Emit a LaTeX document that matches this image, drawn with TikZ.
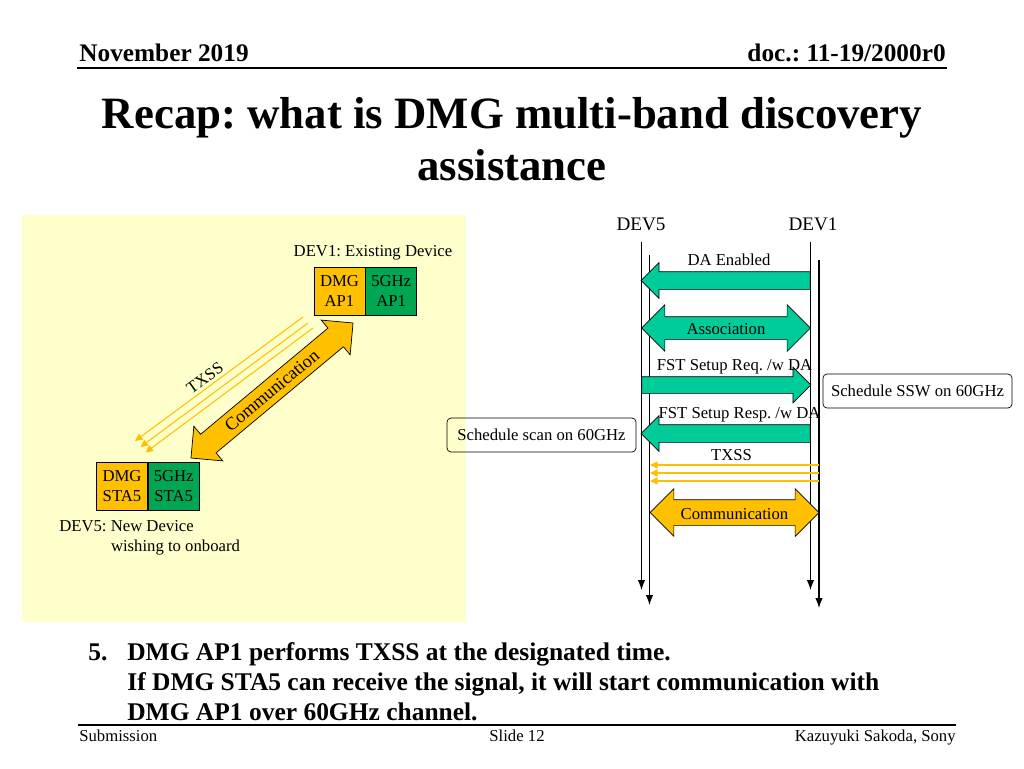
\documentclass[tikz,border=0pt]{standalone}
\usepackage{fontspec}
\setmainfont{Liberation Serif}
\usetikzlibrary{arrows.meta, shapes.arrows}
\definecolor{padyellow}{RGB}{255,255,204}
\definecolor{dmgorange}{RGB}{255,192,0}
\definecolor{ghzgreen}{RGB}{0,166,81}
\definecolor{msggreen}{RGB}{0,204,153}
\tikzset{
  lbl/.style={font=\fontsize{9.5}{11}\selectfont, inner sep=0pt},
  hdr/.style={font=\bfseries\fontsize{14.4}{17}\selectfont, inner sep=0pt},
  bottxt/.style={font=\bfseries\fontsize{14.5}{17}\selectfont, inner sep=0pt, anchor=base west},
  foot/.style={font=\fontsize{9.5}{11}\selectfont, inner sep=0pt},
  devbox/.style={draw, thin, minimum width=1.02cm, minimum height=0.96cm, inner sep=0pt,
    align=center, font=\fontsize{9.5}{11.5}\selectfont},
  lifeline/.style={line width=0.7pt, -{Latex[length=0.2cm, width=0.15cm]}},
  msgarrow/.style={single arrow, draw, thin, fill=msggreen, minimum height=3.38cm,
    inner sep=0pt, text depth=0pt, anchor=tail},
  msgboth/.style={double arrow, draw, thin, minimum height=3.38cm, inner sep=0pt, lbl},
  beam/.style={dmgorange, line width=0.6pt, -{Triangle[length=0.15cm, width=0.14cm]}},
  notebox/.style={draw, thin, rounded corners=0.08cm, minimum width=3.78cm,
    minimum height=0.68cm, lbl},
}
\begin{document}
\frenchspacing
\begin{tikzpicture}[x=0.02cm, y=-0.02cm]
  \useasboundingbox (0,0) rectangle (1024,768);
  % header and title
  \node[hdr, anchor=base west] (month) at (79,61.5) {November 2019};
  \node[hdr, anchor=base east] (docno) at (946,61.5) {doc.: 11-19/2000r0};
  \draw[line width=0.9pt] (77,68) -- (947,68);
  \node[font=\bfseries\fontsize{25.5}{30}\selectfont, inner sep=0pt, anchor=base] (title1)
    at (512,128) {Recap: what is DMG multi-band discovery};
  \node[font=\bfseries\fontsize{25.5}{30}\selectfont, inner sep=0pt, anchor=base] (title2)
    at (512,180) {assistance};

  % left: topology
  \fill[padyellow] (22,215) rectangle (466,622);
  \coordinate (bs1) at (303,317); \coordinate (be1) at (135,441);
  \coordinate (bs2) at (308,323); \coordinate (be2) at (140.5,447);
  \coordinate (bs3) at (313,328); \coordinate (be3) at (145.5,452.5);
  \foreach \i in {1,2,3}
    \draw[beam] (bs\i) -- (be\i);
  \node[lbl, rotate=36] (txssdiag) at (205,378) {TXSS};
  \node[double arrow, draw, thin, fill=dmgorange, rotate=39.8, minimum height=4.22cm,
    double arrow head extend=0.21cm, text height=0.35cm, text depth=0.12cm, inner sep=0pt,
    font=\fontsize{10.3}{12}\selectfont] (commdiag) at (272,390.5) {Communication};

  \node[devbox, fill=dmgorange] (dmgap) at (339.5,291) {DMG\\AP1};
  \node[devbox, fill=ghzgreen, anchor=west] (ghzap) at (dmgap.east) {5GHz\\AP1};
  \node[lbl, anchor=base] (dev1name) at (373,256.7) {DEV1: Existing Device};
  \node[devbox, fill=dmgorange] (dmgsta) at (122,486.3) {DMG\\STA5};
  \node[devbox, fill=ghzgreen, anchor=west] (ghzsta) at (dmgsta.east) {5GHz\\STA5};
  \node[lbl, anchor=base west] (dev5name) at (59,531.7) {DEV5: New Device};
  \node[lbl, anchor=base west] (dev5more) at (110.7,551) {wishing to onboard};

  % right: message sequence
  \node[font=\fontsize{10.9}{13}\selectfont, inner sep=0pt, anchor=base] (dev5) at (641,230) {DEV5};
  \node[font=\fontsize{10.9}{13}\selectfont, inner sep=0pt, anchor=base] (dev1) at (813,230) {DEV1};
  \coordinate (l5a) at (641.5,242); \coordinate (l5aend) at (641.5,590);
  \coordinate (l5b) at (649.5,255); \coordinate (l5bend) at (649.5,605);
  \coordinate (l1a) at (810.5,242); \coordinate (l1aend) at (810.5,590);
  \coordinate (l1b) at (819,260);   \coordinate (l1bend) at (819,608);
  \draw[lifeline] (l5a) -- (l5aend);
  \draw[lifeline] (l5b) -- (l5bend);
  \draw[lifeline] (l1a) -- (l1aend);
  \draw[lifeline] (l1b) -- (l1bend);

  \node[msgarrow, shape border rotate=180, text height=0.34cm, single arrow head extend=0.18cm]
    (daen) at (810.5,280.5) {};
  \node[lbl, anchor=base] (daenlbl) at (729,265) {DA Enabled};
  \node[msgboth, fill=msggreen, double arrow head extend=0.24cm, text height=0.34cm,
    text depth=0.1cm] (assoc) at (726,328) {Association};
  \node[msgarrow, text height=0.32cm, single arrow head extend=0.19cm] (fstreq) at (641.5,385) {};
  \node[lbl, anchor=base] (fstreqlbl) at (734.5,370) {FST Setup Req. /w DA};
  \node[notebox] (ssw) at (917.5,391) {Schedule SSW on 60GHz};
  \node[msgarrow, shape border rotate=180, text height=0.34cm, single arrow head extend=0.18cm]
    (fstresp) at (810.5,433.5) {};
  \node[lbl, anchor=base] (fstresplbl) at (739.5,418) {FST Setup Resp. /w DA};
  \node[notebox] (scan) at (541.5,435) {Schedule scan on 60GHz};
  \foreach \y [count=\i] in {465,473,481} {
    \coordinate (txs\i) at (819,\y);
    \coordinate (txe\i) at (650,\y);
    \draw[beam] (txs\i) -- (txe\i);
  }
  \node[lbl, anchor=base] (txsslbl) at (731.5,460.7) {TXSS};
  \node[msgboth, fill=dmgorange, double arrow head extend=0.22cm, text height=0.38cm,
    text depth=0.12cm] (commseq) at (734.5,512.5) {Communication};

  % step text
  \node[bottxt] (stepno) at (88,660) {5.};
  \node[bottxt] (step1) at (127,660) {DMG AP1 performs TXSS at the designated time.};
  \node[bottxt] (step2) at (127,690) {If DMG STA5 can receive the signal, it will start communication with};
  \node[bottxt] (step3) at (127,720.5) {DMG AP1 over 60GHz channel.};

  % footer
  \draw[line width=0.9pt] (78,725) -- (956,725);
  \node[foot, anchor=base west] (submit) at (79,741.5) {Submission};
  \node[foot, anchor=base] (slideno) at (517,741.5) {Slide 12};
  \node[foot, anchor=base east] (author) at (956,741.5) {Kazuyuki Sakoda, Sony};
\end{tikzpicture}
\end{document}
